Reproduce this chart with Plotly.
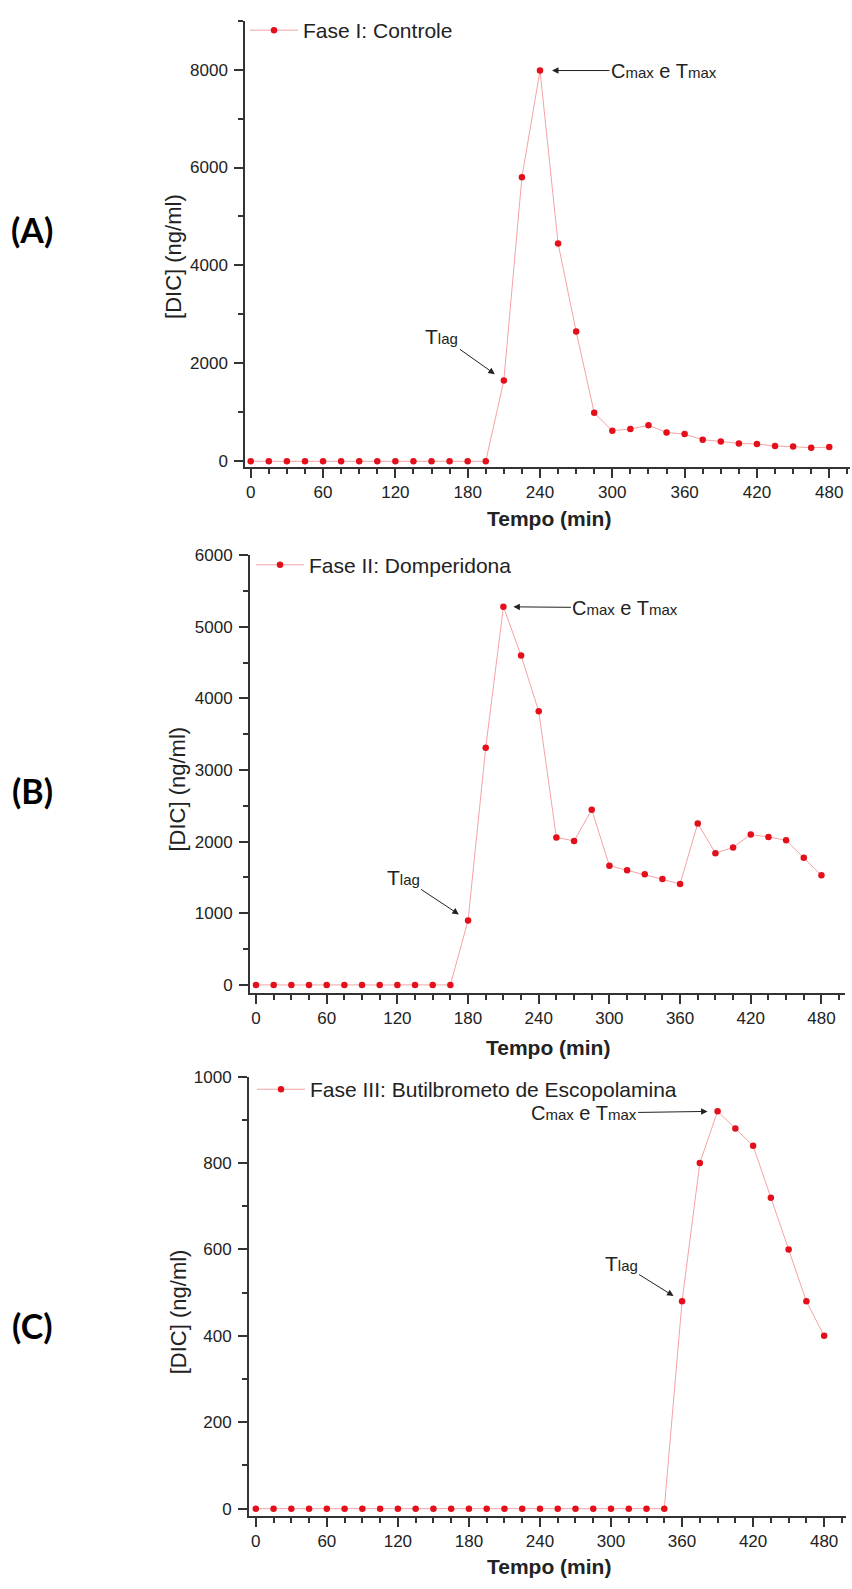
import plotly.graph_objects as go

# ---------------- data ----------------
tempo = [0, 15, 30, 45, 60, 75, 90, 105, 120, 135, 150, 165, 180, 195, 210, 225,
         240, 255, 270, 285, 300, 315, 330, 345, 360, 375, 390, 405, 420, 435, 450, 465, 480]

dic_fase1 = [0, 0, 0, 0, 0, 0, 0, 0, 0, 0, 0, 0, 0, 0,
             1650, 5800, 7980, 4450, 2650, 990, 625, 660, 735, 590, 555, 440, 405,
             365, 355, 310, 300, 275, 290]

dic_fase2 = [0, 0, 0, 0, 0, 0, 0, 0, 0, 0, 0, 0,
             900, 3310, 5280, 4600, 3820, 2060, 2010, 2445, 1665, 1600, 1545, 1480,
             1410, 2255, 1840, 1920, 2100, 2065, 2020, 1775, 1530]

dic_fase3 = [0, 0, 0, 0, 0, 0, 0, 0, 0, 0, 0, 0, 0, 0, 0, 0, 0, 0, 0, 0, 0, 0, 0, 0,
             480, 800, 920, 880, 840, 720, 600, 480, 400]

series_names = ["Fase I: Controle", "Fase II: Domperidona",
                "Fase III: Butilbrometo de Escopolamina"]
panel_labels = ["(A)", "(B)", "(C)"]
x_title = "Tempo (min)"
y_title = "[DIC] (ng/ml)"
x_ticks = [0, 60, 120, 180, 240, 300, 360, 420, 480]

# ---------------- layout helpers ----------------
W, H = 852, 1589
def px_x(p):
    return p / W
def px_y(p):
    return 1 - p / H

LINE_COL = "#F4A3A3"
MARK_COL = "#E3101B"
AX_COL = "#333333"
FONT = "Liberation Sans, Arial, sans-serif"

panels = [
    dict(y=dic_fase1, xdom=(245.3, 850), ydom=(461.7, 11.7), xr=(-4.5, 497.2),
         yr=(-115, 9000), ydt=2000, ymdt=1000, tlag_i=14, leg=(245, 21.7),
         cmax_ax=124, cmax_ay=0, cmax_so=12, tlag_ax=-62, tlag_ay=-44, tlag_so=11,
         ytit=(174, 250), xtit=(549, 514), lab=(32, 222)),
    dict(y=dic_fase2, xdom=(250, 845), ydom=(991.7, 550.7), xr=(-5.1, 500),
         yr=(-107, 6000), ydt=1000, ymdt=500, tlag_i=12, leg=(251, 560.7),
         cmax_ax=122, cmax_ay=1, cmax_so=10, tlag_ax=-65, tlag_ay=-43, tlag_so=11,
         ytit=(178, 787), xtit=(548, 1047), lab=(32, 788)),
    dict(y=dic_fase3, xdom=(249.1, 846.4), ydom=(1519, 1076.5), xr=(-5.66, 498.8),
         yr=(-16, 1000), ydt=200, ymdt=100, tlag_i=24, leg=(252, 1089.5),
         cmax_ax=-134, cmax_ay=2, cmax_so=10, tlag_ax=-61, tlag_ay=-38, tlag_so=10,
         ytit=(178, 1314), xtit=(549, 1570), lab=(32, 1327)),
]

fig = go.Figure()
annotations = []
layout = {}

def small(s):
    return '<span style="font-size:15px">' + s + '</span>'

for i, p in enumerate(panels):
    n = "" if i == 0 else str(i + 1)
    leg = "legend" if i == 0 else "legend" + str(i + 1)
    fig.add_trace(go.Scatter(
        x=tempo, y=p["y"], name=series_names[i], mode="lines+markers",
        line=dict(color=LINE_COL, width=1),
        marker=dict(color=MARK_COL, size=6.5),
        xaxis="x" + n, yaxis="y" + n, legend=leg, showlegend=True))

    common = dict(showline=True, linecolor=AX_COL, linewidth=2, ticks="outside",
                  ticklen=9, tickwidth=1.5, tickcolor=AX_COL, showgrid=False,
                  zeroline=False, tickfont=dict(family=FONT, size=17, color="#222"))
    layout["xaxis" + n] = dict(
        domain=[px_x(p["xdom"][0]), px_x(p["xdom"][1])], range=list(p["xr"]),
        anchor="y" + n, tickvals=x_ticks,
        minor=dict(dtick=15, tick0=0, ticklen=5, tickwidth=1.5, tickcolor=AX_COL,
                   ticks="outside", showgrid=False),
        **common)
    layout["yaxis" + n] = dict(
        domain=[px_y(p["ydom"][0]), px_y(p["ydom"][1])], range=list(p["yr"]),
        anchor="x" + n, dtick=p["ydt"], tick0=0, ticklabelstandoff=3,
        minor=dict(dtick=p["ymdt"], tick0=0, ticklen=5, tickwidth=1.5,
                   tickcolor=AX_COL, ticks="outside", showgrid=False),
        **common)
    layout[leg] = dict(x=px_x(p["leg"][0]), y=px_y(p["leg"][1]), xanchor="left",
                       yanchor="middle", bgcolor="rgba(0,0,0,0)", borderwidth=0,
                       itemwidth=48, font=dict(family=FONT, size=21, color="#222"))

    ys = p["y"]
    imax = ys.index(max(ys))
    annotations.append(dict(
        x=tempo[imax], y=ys[imax], xref="x" + n, yref="y" + n,
        text="C" + small("max") + " e T" + small("max"),
        showarrow=True, ax=p["cmax_ax"], ay=p["cmax_ay"], standoff=p["cmax_so"],
        arrowhead=2, arrowsize=1.3, arrowwidth=1, arrowcolor="#222",
        font=dict(family=FONT, size=20, color="#222")))
    ti = p["tlag_i"]
    annotations.append(dict(
        x=tempo[ti], y=ys[ti], xref="x" + n, yref="y" + n,
        text="T" + small("lag"),
        showarrow=True, ax=p["tlag_ax"], ay=p["tlag_ay"], standoff=p["tlag_so"],
        arrowhead=2, arrowsize=1.3, arrowwidth=1, arrowcolor="#222",
        font=dict(family=FONT, size=21, color="#222")))
    annotations.append(dict(
        x=px_x(p["ytit"][0]), y=px_y(p["ytit"][1]), xref="paper", yref="paper",
        text=y_title, textangle=-90, showarrow=False,
        xanchor="center", yanchor="middle",
        font=dict(family=FONT, size=22, color="#222")))
    annotations.append(dict(
        x=px_x(p["xtit"][0]), y=px_y(p["xtit"][1]), xref="paper", yref="paper",
        text="<b>" + x_title + "</b>", showarrow=False,
        xanchor="center", yanchor="middle",
        font=dict(family=FONT, size=21, color="#222")))
    annotations.append(dict(
        x=px_x(p["lab"][0]), y=px_y(p["lab"][1]), xref="paper", yref="paper",
        text="<b>" + panel_labels[i] + "</b>", showarrow=False,
        xanchor="center", yanchor="middle",
        font=dict(family="Lato, Open Sans, sans-serif", size=34, color="#000")))

fig.update_layout(
    width=W, height=H, margin=dict(l=0, r=0, t=0, b=0),
    paper_bgcolor="white", plot_bgcolor="white",
    annotations=annotations, **layout)

fig.write_html("out.html")
